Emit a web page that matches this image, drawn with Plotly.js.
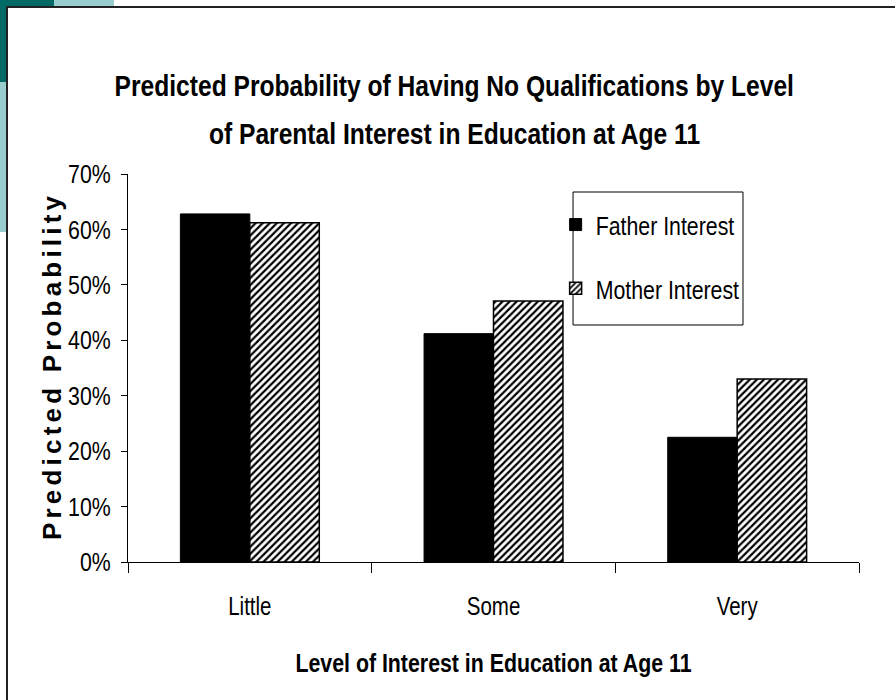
<!DOCTYPE html>
<html>
<head>
<meta charset="utf-8">
<script src="https://cdn.plot.ly/plotly-3.0.1.min.js"></script>
<style>
  html, body { margin: 0; padding: 0; background: #ffffff; overflow: hidden; }
  #deco { position: absolute; left: 0; top: 0; width: 895px; height: 700px; }
  .t { position: absolute; }
  #frame { position: absolute; left: 6px; top: 6px; width: 900px; height: 710px;
           border-left: 2px solid #222; border-top: 2px solid #222; background: #fff; }
  #chart { position: absolute; left: 0; top: 0; width: 895px; height: 700px; }
</style>
</head>
<body>
<div id="deco">
  <div class="t" style="left:0;top:0;width:8px;height:82px;background:#006b66"></div>
  <div class="t" style="left:0;top:82px;width:8px;height:150px;background:#99cccc"></div>
  <div class="t" style="left:0;top:0;width:54px;height:8px;background:#006b66"></div>
  <div class="t" style="left:54px;top:0;width:60px;height:8px;background:#99cccc"></div>
</div>
<div id="frame"></div>
<div id="chart"></div>
<script>
// Data
var categories = ["Little", "Some", "Very"];
var fatherInterest = [0.628, 0.412, 0.225];
var motherInterest = [0.612, 0.471, 0.330];
var seriesNames = ["Father Interest", "Mother Interest"];
var yTickVals = [0, 0.1, 0.2, 0.3, 0.4, 0.5, 0.6, 0.7];
var yTickText = ["0%", "10%", "20%", "30%", "40%", "50%", "60%", "70%"];
var titleLines = ["Predicted Probability of Having No Qualifications by Level",
                  "of Parental Interest in Education at Age 11"];
var xTitle = "Level of Interest in Education at Age 11";
var yTitle = "Predicted Probability";

var FONT = "'Liberation Sans', Arial, sans-serif";

var traces = [
  {
    type: "bar", x: categories, y: fatherInterest, name: seriesNames[0],
    legendgroup: "a",
    marker: { color: "#000000", line: { color: "#000000", width: 1 } },
    hoverinfo: "none"
  },
  {
    type: "bar", x: categories, y: motherInterest, name: seriesNames[1],
    legendgroup: "b",
    marker: {
      color: "#ffffff",
      line: { color: "#000000", width: 1.5 },
      pattern: { shape: "/", fgcolor: "#000000", bgcolor: "#ffffff", size: 5, solidity: 0.45 }
    },
    hoverinfo: "none"
  }
];

var layout = {
  width: 895, height: 700,
  paper_bgcolor: "rgba(0,0,0,0)",
  plot_bgcolor: "rgba(0,0,0,0)",
  margin: { l: 128, r: 36, t: 174, b: 138 },
  barmode: "group",
  bargap: 0.43,
  bargroupgap: 0,
  font: { family: FONT, color: "#000000", size: 24 },
  showlegend: true,
  legend: {
    x: 0.585, y: 0.93, xanchor: "left", yanchor: "top",
    bgcolor: "rgba(0,0,0,0)", borderwidth: 0,
    font: { family: FONT, size: 26, color: "#000000" },
    traceorder: "grouped", tracegroupgap: 27,
    itemwidth: 30
  },
  shapes: [
    { type: "rect", xref: "paper", yref: "paper", x0: 0.6088, x1: 0.8413, y0: 0.6108, y1: 0.9536,
      line: { color: "#000000", width: 1 }, fillcolor: "#ffffff", layer: "below" }
  ],
  xaxis: {
    type: "category",
    showline: true, linecolor: "#000000", linewidth: 1,
    ticks: "outside", tickson: "boundaries", ticklen: 10, tickcolor: "#000000",
    tickfont: { family: FONT, size: 25 },
    ticklabelstandoff: 22,
    showgrid: false, zeroline: false,
    title: { text: xTitle, font: { family: FONT, size: 26, weight: "bold" }, standoff: 34 }
  },
  yaxis: {
    range: [0, 0.7],
    tickvals: yTickVals, ticktext: yTickText,
    showline: true, linecolor: "#000000", linewidth: 1,
    ticks: "outside", ticklen: 6, tickcolor: "#000000",
    tickfont: { family: FONT, size: 26 },
    ticklabelstandoff: 5,
    showgrid: false, zeroline: false,
    title: { text: yTitle, font: { family: FONT, size: 26, weight: "bold" }, standoff: 0 }
  },
  annotations: [
    { text: "<b>" + titleLines[0] + "</b>", xref: "paper", yref: "paper",
      x: 0.447, y: 1, yshift: 89, xanchor: "center", yanchor: "middle", showarrow: false,
      font: { family: FONT, size: 30, color: "#000" } },
    { text: "<b>" + titleLines[1] + "</b>", xref: "paper", yref: "paper",
      x: 0.447, y: 1, yshift: 41, xanchor: "center", yanchor: "middle", showarrow: false,
      font: { family: FONT, size: 30, color: "#000" } }
  ]
};

// Narrow the glyphs (the original uses a condensed typeface) without changing the text
function condense(gd) {
  var texts = gd.querySelectorAll("text");
  texts.forEach(function (t) {
    var len = t.getComputedTextLength();
    if (!len) return;
    if (t.classList.contains("ytitle")) {
      t.setAttribute("textLength", 344);
      t.setAttribute("lengthAdjust", "spacing");
      var tr = t.getAttribute("transform") || "";
      t.setAttribute("transform", "translate(11,0) " + tr);
    } else {
      t.setAttribute("textLength", (len * 0.82).toFixed(1));
      t.setAttribute("lengthAdjust", "spacingAndGlyphs");
    }
  });
}

Plotly.newPlot("chart", traces, layout, { displayModeBar: false, staticPlot: true })
  .then(function (gd) { condense(gd); });
</script>
</body>
</html>
